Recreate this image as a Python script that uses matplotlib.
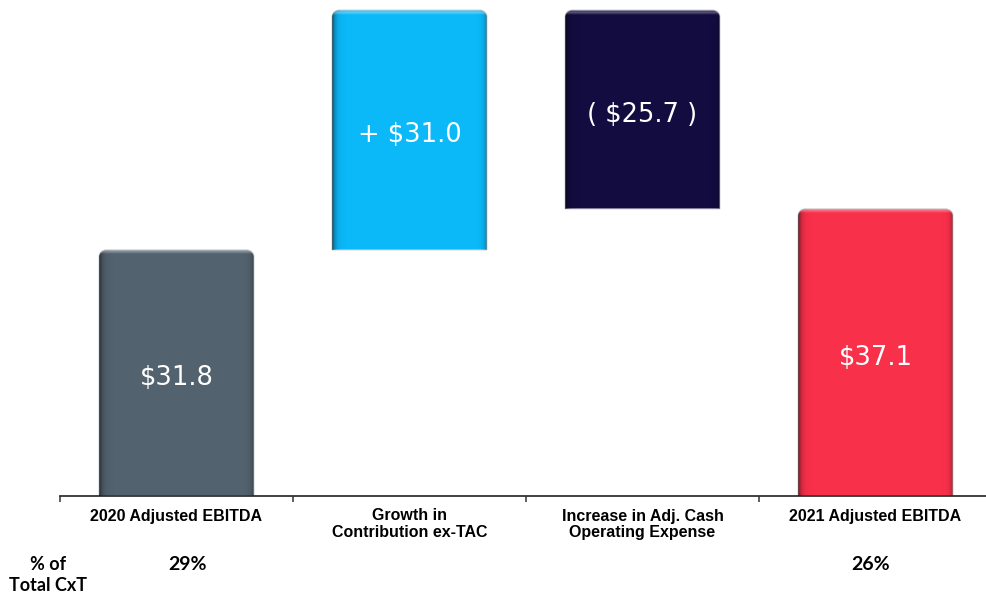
import matplotlib.pyplot as plt
import numpy as np
from matplotlib.path import Path
from matplotlib.patches import PathPatch


categories = ['2020 Adjusted EBITDA', 'Growth in\nContribution ex-TAC',
              'Increase in Adj. Cash\nOperating Expense', '2021 Adjusted EBITDA']
values = [31.8, 31.0, -25.7, 37.1]
is_total = [True, False, False, True]
share_labels = ['29%', '', '', '26%']
bar_colors = ['#52626e', '#0bb8f8', '#130c40', '#f9304a']


def value_label(v, total):
    if total:
        return '${:.1f}'.format(v)
    if v >= 0:
        return '+ ${:.1f}'.format(v)
    return '( ${:.1f} )'.format(-v)


def top_rounded(x0, x1, y0, y1, rx, ry):
    k = 0.5523
    verts = [(x0, y0), (x0, y1 - ry),
             (x0, y1 - ry + k * ry), (x0 + rx - k * rx, y1), (x0 + rx, y1),
             (x1 - rx, y1),
             (x1 - rx + k * rx, y1), (x1, y1 - ry + k * ry), (x1, y1 - ry),
             (x1, y0), (x0, y0)]
    codes = [Path.MOVETO, Path.LINETO,
             Path.CURVE4, Path.CURVE4, Path.CURVE4,
             Path.LINETO,
             Path.CURVE4, Path.CURVE4, Path.CURVE4,
             Path.LINETO, Path.CLOSEPOLY]
    return Path(verts, codes)


fig = plt.figure(figsize=(9.86, 5.96), dpi=100)
ax = fig.add_axes([60 / 986, 100 / 596, 932 / 986, 496 / 596])

ymax = 64.1
ax.set_xlim(-0.5, 3.5)
ax.set_ylim(0, ymax)
px_x = 932 / 4.0
px_y = 496 / ymax

bar_w = 0.665
rx = 7 / px_x
ry = 7 / px_y

running = 0.0
for i, (v, tot) in enumerate(zip(values, is_total)):
    if tot:
        bottom, top = 0.0, v
        running = v
    else:
        new = running + v
        bottom, top = min(running, new), max(running, new)
        running = new
    x0, x1 = i - bar_w / 2, i + bar_w / 2

    patch = PathPatch(top_rounded(x0, x1, bottom, top, rx, ry),
                      facecolor=bar_colors[i], edgecolor='#c9cdd3', lw=0.7, zorder=2)
    ax.add_patch(patch)

    # darker edges left and right
    wpx = bar_w * px_x
    xs = np.linspace(0, wpx, 200)
    dark = 0.55 * np.exp(-xs / 3.0) + 0.3 * np.exp(-(wpx - xs) / 2.5)
    shade = np.zeros((1, xs.size, 4))
    shade[0, :, 3] = dark
    im = ax.imshow(shade, extent=[x0, x1, bottom, top], aspect='auto',
                   interpolation='bilinear', zorder=3)
    im.set_clip_path(patch)

    # soft highlight along the top
    hpx = (top - bottom) * px_y
    ys = np.linspace(0, hpx, 400)
    hl = 0.3 * np.exp(-((ys - 2.0) / 1.6) ** 2)
    light = np.ones((ys.size, 1, 4))
    light[:, 0, 3] = hl
    im2 = ax.imshow(light, extent=[x0, x1, bottom, top], aspect='auto',
                    interpolation='bilinear', origin='upper', zorder=3)
    im2.set_clip_path(patch)

    ax.text(i, (bottom + top) / 2 - 0.3, value_label(v, tot), color='white',
            fontsize=18.5, family='DejaVu Sans', ha='center', va='center_baseline',
            zorder=4)

ax.set_xlim(-0.5, 3.5)
ax.set_ylim(0, ymax)

for s in ['top', 'right', 'left']:
    ax.spines[s].set_visible(False)
ax.spines['bottom'].set_color('#333333')
ax.spines['bottom'].set_linewidth(1.3)
ax.set_yticks([])

ax.set_xticks(range(len(categories)))
ax.set_xticklabels(categories, fontsize=11.5, fontweight='bold',
                   family='Liberation Sans', linespacing=1.15)
ax.tick_params(axis='x', which='major', length=0, pad=9)
ax.set_xticks(np.arange(-0.5, 4.0, 1.0), minor=True)
ax.tick_params(axis='x', which='minor', length=4, width=1.1, color='#333333')

# share of total row
fig.text(48 / 986, 1 - 575 / 596, '% of\nTotal CxT', ha='center', va='center',
         fontsize=13, fontweight='bold', family='Lato', linespacing=1.3)
for i, s in enumerate(share_labels):
    if s:
        xf = (60 + (i + 0.5) * px_x + (11 if i == 0 else -5)) / 986
        fig.text(xf, 1 - 564 / 596, s, ha='center', va='center',
                 fontsize=14, fontweight='bold', family='Lato')

fig.savefig('out.png', dpi=100)
